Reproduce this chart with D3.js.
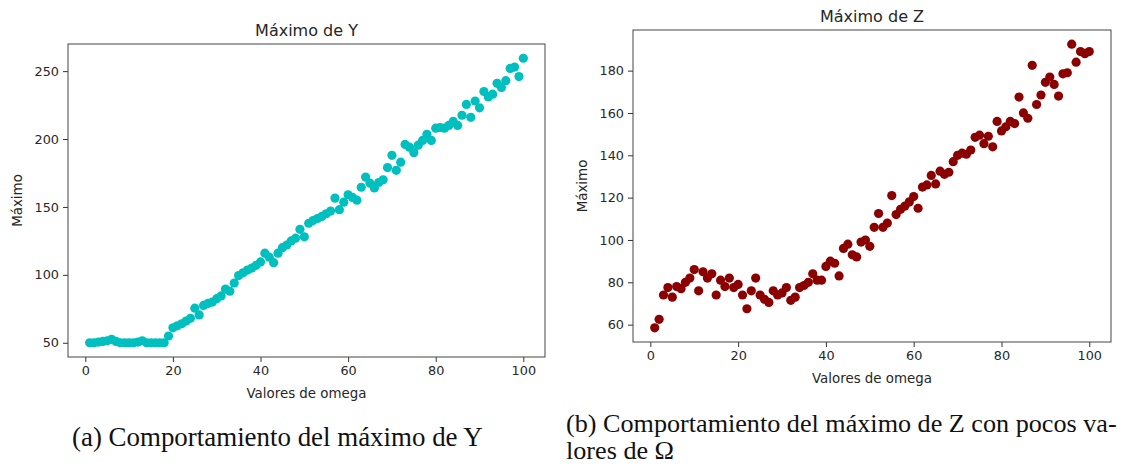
<!DOCTYPE html>
<html>
<head>
<meta charset="utf-8">
<title>Máximo de Y / Máximo de Z</title>
<script src="https://d3js.org/d3.v7.min.js"></script>
<style>
  body { margin: 0; background: #fff; }
  svg text { font-family: "DejaVu Sans", sans-serif; fill: #262626; }
  svg text.caption { font-family: "Liberation Serif", "DejaVu Serif", serif; fill: #111; }
</style>
</head>
<body>
<script>
// valores de omega (eje x)
var omega = [1,2,3,4,5,6,7,8,9,10,11,12,13,14,15,16,17,18,19,20,
  21,22,23,24,25,26,27,28,29,30,31,32,33,34,35,36,37,38,39,40,
  41,42,43,44,45,46,47,48,49,50,51,52,53,54,55,56,57,58,59,60,
  61,62,63,64,65,66,67,68,69,70,71,72,73,74,75,76,77,78,79,80,
  81,82,83,84,85,86,87,88,89,90,91,92,93,94,95,96,97,98,99,100];

// máximo de Y para cada omega
var maxY = [50,50,50.5,51,51.5,52.5,51,50,50,50,50,50.5,51.5,50,50,50,50,50,55,61,
  62.5,64,66,68,75.5,70.5,77.5,79,80,82.5,84.5,89.5,88,94,99.5,101.5,103.5,105,107,109.5,
  116,113,109,116,120,122,125,127,133.5,128,138,140,141.5,143,145,147,156.5,148,153.5,159,
  157,155,164.5,172,167.5,164,168,170,179,188,177,183,196,194,190,195.5,199,203.5,199,208,
  208.5,208,210,213,210,217.5,225.5,216,228,223,235,231,233,241,238,243,252,253,246,259.5];

// máximo de Z para cada omega
var maxZ = [58.5,62.5,74,77.5,73,78,77,80,82,86,76,85,82,84,74,81,78,82,77.5,79,
  74,67.5,76,82,74,72,70.5,76,74,75,77.5,71.5,73,77.5,78.5,80,84,81,81,87.5,
  90,89,83,96,98,93,92,99,100,97,106,112.5,106,108,121,112,114.5,116,118,120.5,
  115,125,126,130.5,126.5,132.5,131,132,137,140,141,140.5,142.5,148.5,149.5,145.5,149,144,156,151.5,
  153.5,156,155,167.5,160,157.5,182.5,164,168.5,174.5,177,173.5,168,178.5,179,192.5,184,189,188,189];

var xTicks = [0, 20, 40, 60, 80, 100];
var yTicksY = [50, 100, 150, 200, 250];
var yTicksZ = [60, 80, 100, 120, 140, 160, 180];

var svg = d3.select("body").append("svg")
    .attr("width", 1121)
    .attr("height", 466);

// dominio con margen del 5% como matplotlib
function padded(vals) {
  var e = d3.extent(vals), p = (e[1] - e[0]) * 0.05;
  return [e[0] - p, e[1] + p];
}

function panel(opt) {
  var g = svg.append("g");
  var x = d3.scaleLinear().domain(padded(omega)).range([opt.left, opt.right]);
  var y = d3.scaleLinear().domain(padded(opt.values)).range([opt.bottom, opt.top]);

  var xa = g.append("g")
      .attr("transform", "translate(0," + opt.bottom + ")")
      .call(d3.axisBottom(x).tickValues(xTicks).tickSize(5).tickPadding(4));
  var ya = g.append("g")
      .attr("transform", "translate(" + opt.left + ",0)")
      .call(d3.axisLeft(y).tickValues(opt.ticks).tickSize(5).tickPadding(4));
  [xa, ya].forEach(function(a) {
    a.select(".domain").remove();
    a.selectAll("line").attr("stroke", "#333");
    a.selectAll("text").attr("font-size", "12.8px").attr("fill", "#262626")
      .style("font-family", "'DejaVu Sans', sans-serif");
  });

  g.append("g").selectAll("circle")
    .data(omega)
    .enter().append("circle")
      .attr("cx", function(d) { return x(d); })
      .attr("cy", function(d, i) { return y(opt.values[i]); })
      .attr("r", 4.6)
      .attr("fill", opt.color);

  // marco
  g.append("rect")
    .attr("x", opt.left).attr("y", opt.top)
    .attr("width", opt.right - opt.left).attr("height", opt.bottom - opt.top)
    .attr("fill", "none").attr("stroke", "#444").attr("stroke-width", 1);

  var cx = (opt.left + opt.right) / 2;
  g.append("text").attr("x", cx).attr("y", opt.top - 8)
    .attr("text-anchor", "middle").attr("font-size", "16px").text(opt.title);
  g.append("text").attr("x", cx).attr("y", opt.bottom + 41)
    .attr("text-anchor", "middle").attr("font-size", "13.4px").text("Valores de omega");
  g.append("text")
    .attr("transform", "translate(" + (opt.left - 46) + "," + ((opt.top + opt.bottom) / 2) + ") rotate(-90)")
    .attr("text-anchor", "middle").attr("font-size", "13.4px").text("Máximo");
}

panel({ left: 68, right: 545, top: 44, bottom: 357, values: maxY, ticks: yTicksY,
        color: "#00bfbf", title: "Máximo de Y" });
panel({ left: 633, right: 1111, top: 30, bottom: 342, values: maxZ, ticks: yTicksZ,
        color: "#8b0000", title: "Máximo de Z" });

// pies de figura, ajustados al ancho del original
function caption(str, x, y, w) {
  var t = svg.append("text").attr("class", "caption")
    .attr("x", x).attr("y", y).attr("font-size", "20px").text(str);
  var len = t.node().getComputedTextLength();
  t.attr("font-size", (20 * w / len).toFixed(2) + "px");
  return t;
}
caption("(a) Comportamiento del máximo de Y", 72, 446, 411);
var b1 = caption("(b) Comportamiento del máximo de Z con pocos va-", 566, 432, 551);
svg.append("text").attr("class", "caption")
  .attr("x", 566).attr("y", 459).attr("font-size", b1.attr("font-size"))
  .text("lores de Ω");
</script>
</body>
</html>
